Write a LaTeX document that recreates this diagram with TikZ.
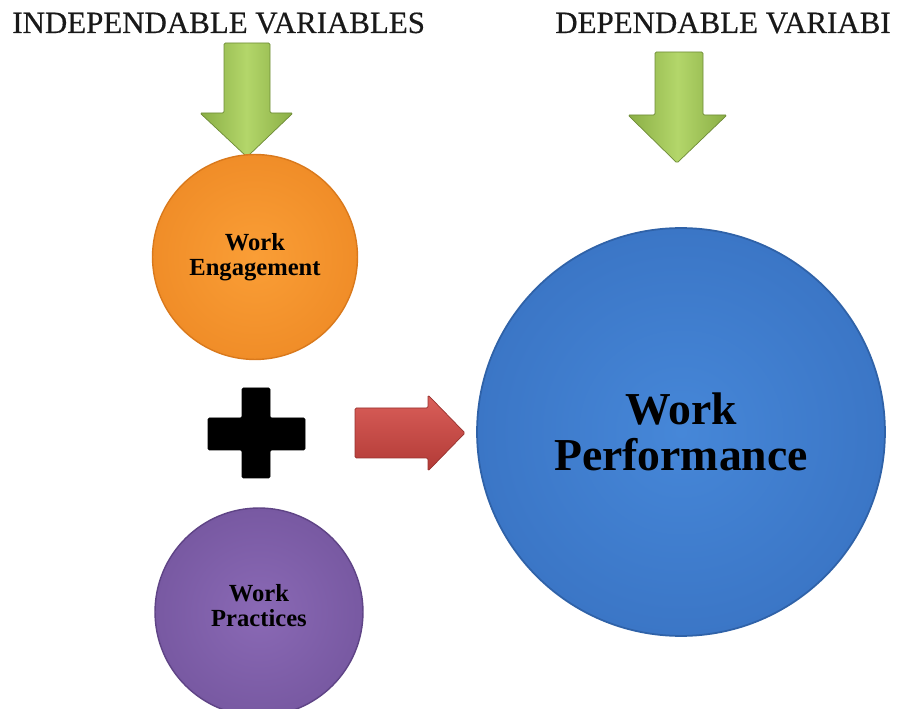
\documentclass[tikz,border=0pt]{standalone}
\usepackage{fontspec}
\setmainfont{Liberation Serif}
\newfontface\titlefont[FakeBold=0.5]{Liberation Serif}
\definecolor{gdark}{HTML}{8AAE45}
\definecolor{glight}{HTML}{B3D66A}
\definecolor{rdark}{HTML}{B23A36}
\definecolor{rlight}{HTML}{DA5F5A}
\definecolor{oin}{HTML}{FA9E36}
\definecolor{oout}{HTML}{F08D28}
\definecolor{oedge}{HTML}{D9791C}
\definecolor{bin}{HTML}{4687D8}
\definecolor{bout}{HTML}{3B76C6}
\definecolor{bedge}{HTML}{2F62A8}
\definecolor{pin}{HTML}{8A69B5}
\definecolor{pout}{HTML}{7859A2}
\definecolor{pedge}{HTML}{5F4486}
\tikzset{
  greenarrow/.style={left color=gdark, right color=gdark, middle color=glight, draw=gdark!80!black, line width=0.4pt, rounded corners=0.8pt},
  redarrow/.style={top color=rlight, bottom color=rdark, draw=rdark!85!black, line width=0.4pt, rounded corners=0.8pt},
  plusshape/.style={fill=black, draw=black, rounded corners=0.8pt},
  titletext/.style={font=\titlefont\fontsize{17.6}{20}\selectfont, anchor=base west, inner sep=0pt, text=black!90},
  smallball/.style={circle, align=center, inner sep=0pt, line width=0.8pt, font=\fontsize{14}{14.2}\selectfont\bfseries},
  bigball/.style={circle, align=center, inner sep=0pt, line width=1pt, font=\fontsize{26}{26.6}\selectfont\bfseries}
}
\begin{document}
\begin{tikzpicture}[x=0.02cm, y=-0.02cm]
\useasboundingbox (0,0) rectangle (897,709);
\begin{scope}
\clip (0,0) rectangle (897,709);
% titles
\node[titletext] (indep) at (12,33) {INDEPENDABLE VARIABLES};
\node[titletext] (dep) at (555,33) {DEPENDABLE VARIABI};
% green arrows
\draw[greenarrow] (224,43) -- (270,43) -- (270,113) -- (293,113) -- (247,157) -- (200,113) -- (224,113) -- cycle;
\draw[greenarrow] (655,52) -- (703,52) -- (703,115) -- (727,115) -- (677,163) -- (628,115) -- (655,115) -- cycle;
% circles
\node[smallball, minimum size=4.1cm, inner color=oin, outer color=oout, draw=oedge] (eng) at (255,257) {Work\\Engagement};
\node[smallball, minimum size=4.16cm, inner color=pin, outer color=pout, draw=pedge, text depth=7.5pt] (prac) at (259,612) {Work\\Practices};
\node[bigball, minimum size=8.16cm, inner color=bin, outer color=bout, draw=bedge] (perf) at (681,432) {Work\\Performance};
% plus sign
\draw[plusshape] (242,388) -- (270,388) -- (270,418) -- (305,418) -- (305,450) -- (270,450) -- (270,478) -- (242,478) -- (242,450) -- (208,450) -- (208,418) -- (242,418) -- cycle;
% red arrow
\draw[redarrow] (355,408) -- (428,408) -- (428,395) -- (465,433) -- (428,471) -- (428,458) -- (355,458) -- cycle;
\end{scope}
\end{tikzpicture}
\end{document}
